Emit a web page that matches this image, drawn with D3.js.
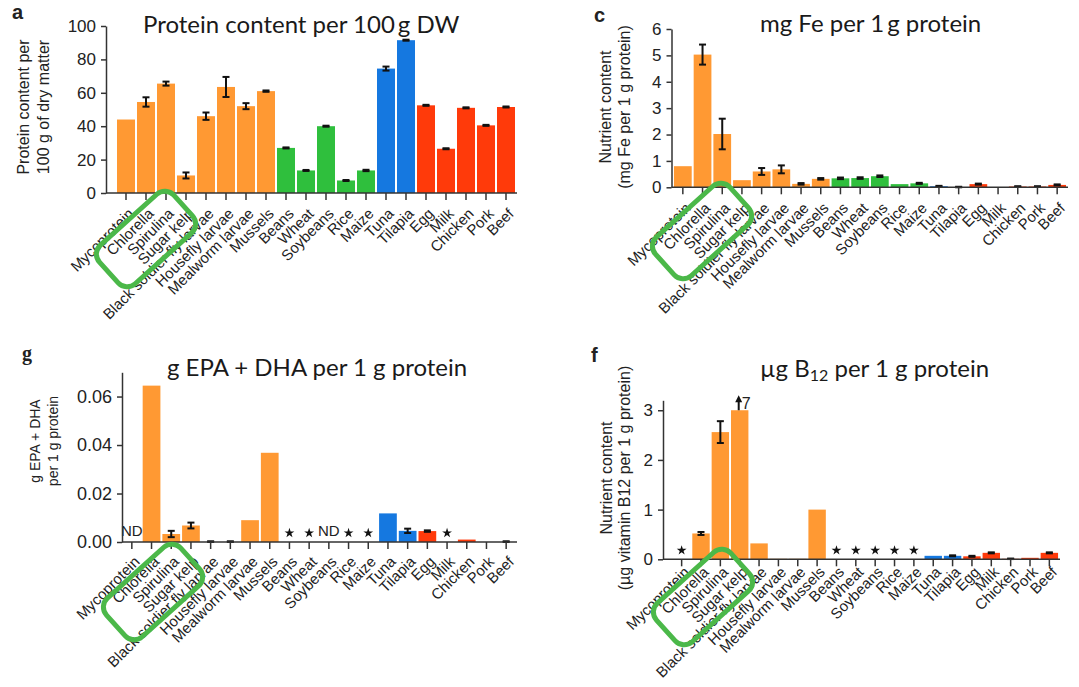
<!DOCTYPE html>
<meta charset="utf-8">
<head>
  <title>Protein and nutrient content</title>
</head>

<style>
body {
  margin: 0;
  background: #fff;
  font-family: "Liberation Sans", Arial, sans-serif;
}
svg text { fill: #222; }
.title { font-family: Lato, "Open Sans", sans-serif; font-size: 24px; fill: #1a1a1a; }
.axis text { font-size: 16px; fill: #222; }
.axis path, .axis line { stroke: #333; stroke-width: 1.5; }
.xlab { font-size: 15px; }
.ylab { font-size: 16px; }
</style>

<body>
  <svg width="1079" height="687"></svg>

  <script src="https://cdnjs.cloudflare.com/ajax/libs/d3/7.8.5/d3.min.js"></script>

  <script>
  // categories and group (0 = alternative, 1 = crops, 2 = fish, 3 = animal products)
  var categories = ["Mycoprotein", "Chlorella", "Spirulina", "Sugar kelp", "Black soldier fly larvae",
    "Housefly larvae", "Mealworm larvae", "Mussels", "Beans", "Wheat", "Soybeans", "Rice", "Maize",
    "Tuna", "Tilapia", "Egg", "Milk", "Chicken", "Pork", "Beef"];
  var groups = [0, 0, 0, 0, 0, 0, 0, 0, 1, 1, 1, 1, 1, 2, 2, 3, 3, 3, 3, 3];
  var groupColors = ["#ff9933", "#2fbf3d", "#1578e0", "#ff3a0a"];

  // a: protein per 100 g dry matter
  var protein    = [44, 54.5, 65.5, 10.5, 46, 63.5, 52, 61, 27, 13.5, 40, 7.5, 13.5, 74.5, 91.5, 52.5, 26.5, 51, 40.5, 51.5];
  var proteinErr = [0, 2.8, 1.2, 1.8, 2.2, 6, 1.8, 0.4, 0.3, 0.3, 0.3, 0.3, 0.4, 1.2, 0.3, 0.3, 0.3, 0.3, 0.3, 0.3];

  // c: mg Fe per 1 g protein
  var iron    = [0.8, 5.03, 2.02, 0.27, 0.6, 0.68, 0.13, 0.32, 0.34, 0.35, 0.42, 0.12, 0.15, 0.04, 0.01, 0.12, 0.005, 0.03, 0.03, 0.09];
  var ironErr = [0, 0.38, 0.58, 0, 0.13, 0.15, 0.03, 0.03, 0.03, 0.03, 0.03, 0, 0.02, 0.015, 0.01, 0.02, 0, 0.01, 0.01, 0.02];

  // g: g EPA + DHA per 1 g protein (null = not shown, note gives ND or *)
  var epa     = [null, 0.0645, 0.0033, 0.0068, 0, 0, 0.009, 0.0368, null, null, null, null, null, 0.0118, 0.0046, 0.0045, null, 0.001, 0, 0];
  var epaErr  = [0, 0, 0.0013, 0.0012, 0.0003, 0.0003, 0, 0, 0, 0, 0, 0, 0, 0, 0.0009, 0.0003, 0, 0, 0, 0.0003];
  var epaNote = ["ND", "", "", "", "", "", "", "", "*", "*", "ND", "*", "*", "", "", "", "*", "", "", ""];

  // f: ug B12 per 1 g protein
  var b12     = [null, 0.52, 2.56, 3.0, 0.32, 0.01, 0.01, 1.0, null, null, null, null, null, 0.07, 0.07, 0.06, 0.13, 0.01, 0.03, 0.13];
  var b12Err  = [0, 0.03, 0.22, 0, 0, 0, 0, 0, 0, 0, 0, 0, 0, 0, 0.01, 0.01, 0.01, 0.005, 0, 0.01];
  var b12Note = ["*", "", "", "", "", "", "", "", "*", "*", "*", "*", "*", "", "", "", "", "", "", ""];

  var svg = d3.select("svg");

  function drawPanel(p) {
    var g = svg.append("g");
    var x = d3.scaleBand().domain(categories).range([p.x0, p.x1]).paddingInner(0.1).paddingOuter(0.1);
    var y = d3.scaleLinear().domain([0, p.max]).range([p.base, p.top]);
    var bw = x.bandwidth();

    // bars
    g.selectAll("rect.bar")
      .data(categories.filter(function(c, i) { return p.values[i] != null; }))
      .enter().append("rect")
      .attr("x", function(c) { return x(c); })
      .attr("y", function(c) { return y(p.values[categories.indexOf(c)]); })
      .attr("width", bw)
      .attr("height", function(c) { return p.base - y(p.values[categories.indexOf(c)]); })
      .attr("fill", function(c) { return groupColors[groups[categories.indexOf(c)]]; });

    // error bars
    categories.forEach(function(c, i) {
      var v = p.values[i], e = p.errs[i];
      if (v == null || !e) return;
      var cx = x(c) + bw / 2;
      var lo = Math.max(0, v - e), hi = v + e;
      var eg = g.append("g").attr("stroke", "#111").attr("stroke-width", 2);
      eg.append("line").attr("x1", cx).attr("x2", cx).attr("y1", y(lo)).attr("y2", y(hi));
      eg.append("line").attr("x1", cx - 3.5).attr("x2", cx + 3.5).attr("y1", y(lo)).attr("y2", y(lo));
      eg.append("line").attr("x1", cx - 3.5).attr("x2", cx + 3.5).attr("y1", y(hi)).attr("y2", y(hi));
    });

    // notes (ND / star)
    if (p.notes) {
      categories.forEach(function(c, i) {
        var n = p.notes[i], cx = x(c) + bw / 2;
        if (n === "ND") {
          g.append("text").attr("x", cx).attr("y", p.base - 6).attr("text-anchor", "middle")
            .style("font-size", "15px").text("ND");
        } else if (n === "*") {
          g.append("path").attr("d", d3.symbol(d3.symbolStar, 30)())
            .attr("transform", "translate(" + cx + "," + (p.base - 9) + ")").attr("fill", "#111");
        }
      });
    }

    // y axis
    var ya = g.append("g").attr("class", "axis")
      .attr("transform", "translate(" + p.axisX + ",0)")
      .call(d3.axisLeft(y).tickValues(p.ticks).tickFormat(p.fmt).tickSize(5).tickSizeOuter(0).tickPadding(5));
    ya.selectAll("text").style("font-size", p.tickSize + "px");

    // x axis line and ticks
    g.append("line").attr("x1", p.axisX).attr("x2", p.x1).attr("y1", p.base).attr("y2", p.base)
      .attr("stroke", "#333").attr("stroke-width", 1.5);
    g.selectAll("line.xt").data(categories).enter().append("line")
      .attr("x1", function(c) { return x(c) + bw / 2; })
      .attr("x2", function(c) { return x(c) + bw / 2; })
      .attr("y1", p.base).attr("y2", p.base + 7)
      .attr("stroke", "#333").attr("stroke-width", 1.5);
    g.selectAll("text.xlab").data(categories).enter().append("text")
      .attr("class", "xlab")
      .attr("text-anchor", "end")
      .attr("transform", function(c) { return "translate(" + (x(c) + bw / 2 + 5) + "," + (p.base + p.labDy) + ") rotate(-45)"; })
      .attr("dy", "0.35em")
      .text(function(c) { return c; });

    // y label
    var yl = g.append("text").attr("class", "ylab").attr("text-anchor", "middle")
      .attr("transform", "translate(" + p.ylabX + "," + p.ylabY + ") rotate(-90)")
      .style("font-size", p.ylabSize + "px");
    p.ylab.forEach(function(line, k) {
      yl.append("tspan").attr("x", 0).attr("dy", k === 0 ? 0 : p.ylabGap).text(line);
    });

    // title
    var t = g.append("text").attr("class", "title").attr("x", p.titleX).attr("y", p.titleY);
    p.title.forEach(function(part) {
      var ts = t.append("tspan").text(part.t);
      if (part.sub) ts.attr("baseline-shift", "-25%").style("font-size", "16px");
    });

    // panel letter
    g.append("text").attr("x", p.letterX).attr("y", p.letterY).text(p.letter)
      .style("font-weight", "bold").style("font-size", "20px")
      .style("font-family", p.letter === "g" ? "'Liberation Serif', serif" : "'Liberation Sans', Arial, sans-serif");

    // green highlight box around Chlorella / Spirulina / Sugar kelp
    g.append("rect").attr("x", -50).attr("y", -26).attr("width", 100).attr("height", 52).attr("rx", 12)
      .attr("fill", "none").attr("stroke", "#4bb849").attr("stroke-width", 5)
      .attr("transform", "translate(" + p.box[0] + "," + p.box[1] + ") rotate(-42)");

    return { g: g, x: x, y: y };
  }

  drawPanel({
    values: protein, errs: proteinErr, x0: 115, x1: 517, axisX: 106, base: 193, top: 26, max: 100,
    ticks: [0, 20, 40, 60, 80, 100], fmt: d3.format("d"), tickSize: 17, labDy: 18,
    ylab: ["Protein content per", "100 g of dry matter"], ylabX: 29, ylabY: 107, ylabGap: 20, ylabSize: 16,
    title: [{ t: "Protein content per 100\u2009g DW" }], titleX: 143, titleY: 33,
    letter: "a", letterX: 12, letterY: 19, box: [146, 239]
  });

  drawPanel({
    values: iron, errs: ironErr, x0: 672, x1: 1068, axisX: 671.5, base: 187.3, top: 29, max: 6,
    ticks: [0, 1, 2, 3, 4, 5, 6], fmt: d3.format("d"), tickSize: 17, labDy: 18,
    ylab: ["Nutrient content", "(mg Fe per 1 g protein)"], ylabX: 611, ylabY: 107, ylabGap: 19, ylabSize: 16,
    title: [{ t: "mg Fe per 1\u2009g protein" }], titleX: 760, titleY: 32,
    letter: "c", letterX: 594, letterY: 22, box: [702, 231]
  });

  drawPanel({
    values: epa, errs: epaErr, notes: epaNote, x0: 121, x1: 517, axisX: 122, base: 542, top: 372.3, max: 0.07,
    ticks: [0, 0.02, 0.04, 0.06], fmt: d3.format(".2f"), tickSize: 18, labDy: 17,
    ylab: ["g EPA + DHA", "per 1 g protein"], ylabX: 40, ylabY: 441, ylabGap: 18, ylabSize: 14,
    title: [{ t: "g EPA + DHA per 1 g protein" }], titleX: 167, titleY: 376,
    letter: "g", letterX: 22, letterY: 360, box: [153, 592]
  });

  var f = drawPanel({
    values: b12, errs: b12Err, notes: b12Note, x0: 671, x1: 1060, axisX: 663, base: 559.3, top: 400.3, max: 3.2,
    ticks: [0, 1, 2, 3], fmt: d3.format("d"), tickSize: 17, labDy: 10,
    ylab: ["Nutrient content", "(\u00b5g vitamin B12 per 1 g protein)"], ylabX: 612, ylabY: 478, ylabGap: 18, ylabSize: 16,
    title: [{ t: "\u00b5g B" }, { t: "12", sub: true }, { t: " per 1 g protein" }], titleX: 760, titleY: 377,
    letter: "f", letterX: 591, letterY: 362, box: [703, 597]
  });

  // Sugar kelp bar is cut at 3; true value 7
  var kx = f.x("Sugar kelp") + f.x.bandwidth() / 2 - 1;
  f.g.append("line").attr("x1", kx).attr("x2", kx).attr("y1", f.y(3)).attr("y2", f.y(3) - 10)
    .attr("stroke", "#111").attr("stroke-width", 2);
  f.g.append("path").attr("d", "M" + (kx - 3.5) + "," + (f.y(3) - 8) + "L" + kx + "," + (f.y(3) - 15) + "L" + (kx + 3.5) + "," + (f.y(3) - 8) + "Z")
    .attr("fill", "#111");
  f.g.append("text").attr("x", kx + 3).attr("y", f.y(3) - 1).style("font-size", "16px").text("7");
  </script>
</body>
</html>
